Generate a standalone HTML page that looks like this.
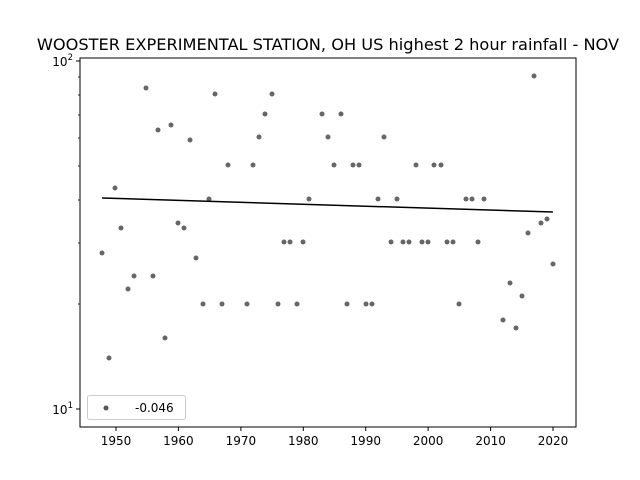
<!DOCTYPE html>
<html><head><style>body{margin:0;background:#fff}svg{display:block}</style></head><body>
<svg width="640" height="480" xmlns="http://www.w3.org/2000/svg" font-family="DejaVu Sans, Liberation Sans, sans-serif">
<rect width="640" height="480" fill="#fff"/>
<text x="328" y="50" font-size="16.2" text-anchor="middle">WOOSTER EXPERIMENTAL STATION, OH US highest 2 hour rainfall - NOV</text>
<rect x="80" y="58" width="496" height="369" fill="none" stroke="#000" stroke-width="1"/>
<g stroke="#000" stroke-width="1">
<line x1="116" y1="427" x2="116" y2="431"/><line x1="178.4" y1="427" x2="178.4" y2="431"/><line x1="240.9" y1="427" x2="240.9" y2="431"/><line x1="303.3" y1="427" x2="303.3" y2="431"/><line x1="365.7" y1="427" x2="365.7" y2="431"/><line x1="428.1" y1="427" x2="428.1" y2="431"/><line x1="490.6" y1="427" x2="490.6" y2="431"/><line x1="553" y1="427" x2="553" y2="431"/>
<line x1="76" y1="61" x2="80" y2="61"/><line x1="76" y1="409" x2="80" y2="409"/>
</g>
<g stroke="#000" stroke-width="0.8">
<line x1="78" y1="304" x2="80" y2="304"/><line x1="78" y1="243" x2="80" y2="243"/><line x1="78" y1="200" x2="80" y2="200"/><line x1="78" y1="166" x2="80" y2="166"/><line x1="78" y1="138" x2="80" y2="138"/><line x1="78" y1="115" x2="80" y2="115"/><line x1="78" y1="95" x2="80" y2="95"/><line x1="78" y1="77" x2="80" y2="77"/>
</g>
<g font-size="12" text-anchor="middle">
<text x="116" y="445">1950</text><text x="178.4" y="445">1960</text><text x="240.9" y="445">1970</text><text x="303.3" y="445">1980</text><text x="365.7" y="445">1990</text><text x="428.1" y="445">2000</text><text x="490.6" y="445">2010</text><text x="553" y="445">2020</text>
</g>
<text x="73" y="66" font-size="12" text-anchor="end">10<tspan font-size="8.5" dy="-6">2</tspan></text>
<text x="73" y="414" font-size="12" text-anchor="end">10<tspan font-size="8.5" dy="-6">1</tspan></text>
<g fill="#555" fill-opacity="0.9">
<circle cx="102" cy="253" r="2.5"/><circle cx="109" cy="358" r="2.5"/><circle cx="115" cy="188" r="2.5"/><circle cx="121" cy="228" r="2.5"/><circle cx="128" cy="289" r="2.5"/><circle cx="134" cy="276" r="2.5"/><circle cx="146" cy="88" r="2.5"/><circle cx="153" cy="276" r="2.5"/><circle cx="158" cy="130" r="2.5"/><circle cx="165" cy="338" r="2.5"/><circle cx="171" cy="125" r="2.5"/><circle cx="178" cy="223" r="2.5"/><circle cx="184" cy="228" r="2.5"/><circle cx="190" cy="140" r="2.5"/><circle cx="196" cy="258" r="2.5"/><circle cx="203" cy="304" r="2.5"/><circle cx="209" cy="199" r="2.5"/><circle cx="215" cy="94" r="2.5"/><circle cx="222" cy="304" r="2.5"/><circle cx="228" cy="165" r="2.5"/><circle cx="247" cy="304" r="2.5"/><circle cx="253" cy="165" r="2.5"/><circle cx="259" cy="137" r="2.5"/><circle cx="265" cy="114" r="2.5"/><circle cx="272" cy="94" r="2.5"/><circle cx="278" cy="304" r="2.5"/><circle cx="284" cy="242" r="2.5"/><circle cx="290" cy="242" r="2.5"/><circle cx="297" cy="304" r="2.5"/><circle cx="303" cy="242" r="2.5"/><circle cx="309" cy="199" r="2.5"/><circle cx="322" cy="114" r="2.5"/><circle cx="328" cy="137" r="2.5"/><circle cx="334" cy="165" r="2.5"/><circle cx="341" cy="114" r="2.5"/><circle cx="347" cy="304" r="2.5"/><circle cx="353" cy="165" r="2.5"/><circle cx="359" cy="165" r="2.5"/><circle cx="366" cy="304" r="2.5"/><circle cx="372" cy="304" r="2.5"/><circle cx="378" cy="199" r="2.5"/><circle cx="384" cy="137" r="2.5"/><circle cx="391" cy="242" r="2.5"/><circle cx="397" cy="199" r="2.5"/><circle cx="403" cy="242" r="2.5"/><circle cx="409" cy="242" r="2.5"/><circle cx="416" cy="165" r="2.5"/><circle cx="422" cy="242" r="2.5"/><circle cx="428" cy="242" r="2.5"/><circle cx="434" cy="165" r="2.5"/><circle cx="441" cy="165" r="2.5"/><circle cx="447" cy="242" r="2.5"/><circle cx="453" cy="242" r="2.5"/><circle cx="459" cy="304" r="2.5"/><circle cx="466" cy="199" r="2.5"/><circle cx="472" cy="199" r="2.5"/><circle cx="478" cy="242" r="2.5"/><circle cx="484" cy="199" r="2.5"/><circle cx="503" cy="320" r="2.5"/><circle cx="510" cy="283" r="2.5"/><circle cx="516" cy="328" r="2.5"/><circle cx="522" cy="296" r="2.5"/><circle cx="528" cy="233" r="2.5"/><circle cx="534" cy="76" r="2.5"/><circle cx="541" cy="223" r="2.5"/><circle cx="547" cy="219" r="2.5"/><circle cx="553" cy="264" r="2.5"/>
</g>
<line x1="102" y1="198" x2="553" y2="212" stroke="#000" stroke-width="1.5"/>
<rect x="87.5" y="395.5" width="98" height="24" rx="2" fill="#fff" stroke="#ccc"/>
<circle cx="106" cy="408" r="2.5" fill="#555"/>
<text x="135" y="412" font-size="12">-0.046</text>
</svg>
</body></html>
